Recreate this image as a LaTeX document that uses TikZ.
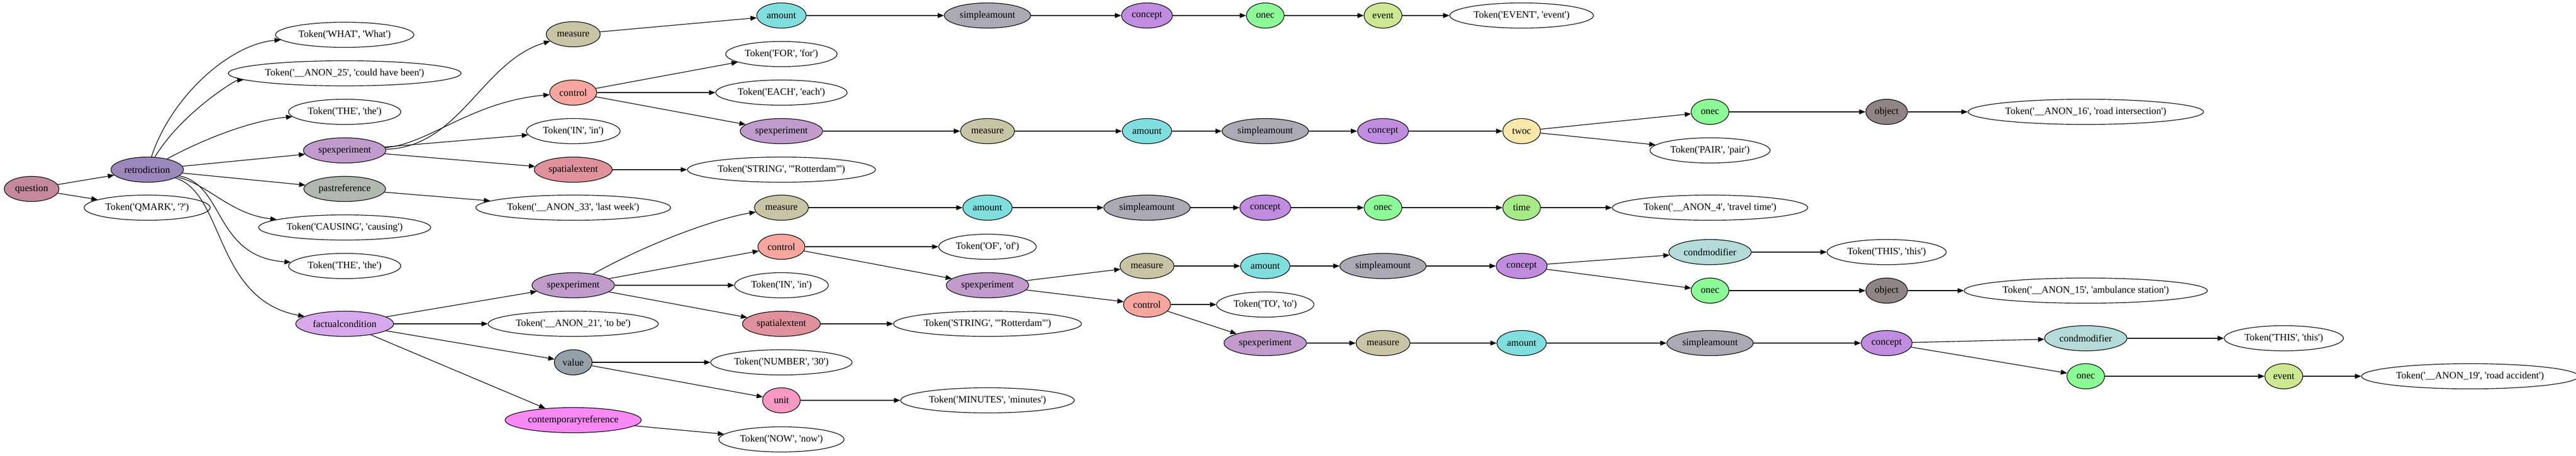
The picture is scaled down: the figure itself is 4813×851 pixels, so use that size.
\documentclass[tikz,border=0pt]{standalone}
\usepackage{fontspec}
\setmainfont{Liberation Serif}[Ligatures=TeXOff]
\usetikzlibrary{arrows.meta,shapes}
\definecolor{cquest}{HTML}{C48A9B}
\definecolor{cretro}{HTML}{9B87BB}
\definecolor{cspex}{HTML}{C09BCC}
\definecolor{cpast}{HTML}{B0B8B0}
\definecolor{cfact}{HTML}{D8A8EC}
\definecolor{cmeas}{HTML}{C8C4A6}
\definecolor{cctrl}{HTML}{F6A69E}
\definecolor{cspat}{HTML}{E0929C}
\definecolor{camt}{HTML}{80DEDE}
\definecolor{csamt}{HTML}{AAAAB4}
\definecolor{cconc}{HTML}{C08CE0}
\definecolor{conec}{HTML}{8CFA96}
\definecolor{cevent}{HTML}{CCE892}
\definecolor{ctwoc}{HTML}{FAE8AA}
\definecolor{cobj}{HTML}{908484}
\definecolor{ctime}{HTML}{A8EA88}
\definecolor{ccmod}{HTML}{B4DADA}
\definecolor{cval}{HTML}{96A0A8}
\definecolor{cunit}{HTML}{F898C4}
\definecolor{ccref}{HTML}{F888F4}

\begin{document}
\begin{tikzpicture}[x=0.766pt, y=-0.766pt, line width=0.9pt, >={Triangle[length=9pt,width=7pt]}]
	\tikzstyle{tok}=[draw, ellipse, minimum width=54pt, minimum height=36pt, inner xsep=4pt, inner ysep=2pt, text centered, font=\fontsize{14}{16}\selectfont]
	\tikzstyle{quest_b}=[tok, fill=cquest]
	\tikzstyle{retro_b}=[tok, fill=cretro]
	\tikzstyle{spex_b}=[tok, fill=cspex]
	\tikzstyle{past_b}=[tok, fill=cpast]
	\tikzstyle{fact_b}=[tok, fill=cfact]
	\tikzstyle{meas_b}=[tok, fill=cmeas]
	\tikzstyle{ctrl_b}=[tok, fill=cctrl]
	\tikzstyle{spat_b}=[tok, fill=cspat]
	\tikzstyle{amt_b}=[tok, fill=camt]
	\tikzstyle{samt_b}=[tok, fill=csamt]
	\tikzstyle{conc_b}=[tok, fill=cconc]
	\tikzstyle{onec_b}=[tok, fill=conec]
	\tikzstyle{event_b}=[tok, fill=cevent]
	\tikzstyle{twoc_b}=[tok, fill=ctwoc]
	\tikzstyle{obj_b}=[tok, fill=cobj]
	\tikzstyle{time_b}=[tok, fill=ctime]
	\tikzstyle{cmod_b}=[tok, fill=ccmod]
	\tikzstyle{val_b}=[tok, fill=cval]
	\tikzstyle{unit_b}=[tok, fill=cunit]
	\tikzstyle{cref_b}=[tok, fill=ccref]

	\useasboundingbox (0,0) rectangle (4813,851);

	\node[quest_b] (q) at (59,353) {question};
	\node[retro_b] (retro) at (275,317) {retrodiction};
	\node[tok] (qmark) at (275,388) {Token('QMARK', '?')};

	\node[tok] (what) at (644,65) {Token('WHAT', 'What')};
	\node[tok] (anon25) at (644,137) {Token('\_\_ANON\_25', 'could have been')};
	\node[tok] (the1) at (644,209) {Token('THE', 'the')};
	\node[spex_b] (spex1) at (644,281) {spexperiment};
	\node[past_b] (past) at (644,353) {pastreference};
	\node[tok] (causing) at (644,425) {Token('CAUSING', 'causing')};
	\node[tok] (the2) at (644,497) {Token('THE', 'the')};
	\node[fact_b] (fact) at (644,605) {factualcondition};

	\node[meas_b] (meas1) at (1071,64) {measure};
	\node[ctrl_b] (ctrl1) at (1071,173) {control};
	\node[tok] (in1) at (1071,245) {Token('IN', 'in')};
	\node[spat_b] (spat1) at (1071,317) {spatialextent};
	\node[tok] (anon33) at (1071,388) {Token('\_\_ANON\_33', 'last week')};
	\node[spex_b] (spex3) at (1071,533) {spexperiment};
	\node[tok] (anon21) at (1071,605) {Token('\_\_ANON\_21', 'to be')};
	\node[val_b] (val) at (1071,677) {value};
	\node[cref_b] (cref) at (1071,785) {contemporaryreference};

	\node[amt_b] (amt1) at (1460,29) {amount};
	\node[tok] (for) at (1460,101) {Token('FOR', 'for')};
	\node[tok] (each) at (1460,173) {Token('EACH', 'each')};
	\node[spex_b] (spex2) at (1460,245) {spexperiment};
	\node[tok] (str1) at (1460,317) {Token('STRING', '"Rotterdam"')};
	\node[meas_b] (meas2) at (1460,388) {measure};
	\node[ctrl_b] (ctrl2) at (1460,461) {control};
	\node[tok] (in2) at (1460,533) {Token('IN', 'in')};
	\node[spat_b] (spat2) at (1460,605) {spatialextent};
	\node[tok] (num) at (1460,677) {Token('NUMBER', '30')};
	\node[unit_b] (unit) at (1460,748) {unit};
	\node[tok] (now) at (1460,821) {Token('NOW', 'now')};

	\node[samt_b] (samt1) at (1845,29) {simpleamount};
	\node[meas_b] (meas3) at (1845,245) {measure};
	\node[amt_b] (amt2) at (1845,388) {amount};
	\node[tok] (of) at (1845,461) {Token('OF', 'of')};
	\node[spex_b] (spex4) at (1845,533) {spexperiment};
	\node[tok] (str2) at (1845,605) {Token('STRING', '"Rotterdam"')};
	\node[tok] (min) at (1845,748) {Token('MINUTES', 'minutes')};

	\node[conc_b] (conc1) at (2143,29) {concept};
	\node[amt_b] (amt3) at (2143,245) {amount};
	\node[samt_b] (samt2) at (2143,388) {simpleamount};
	\node[meas_b] (meas4) at (2143,497) {measure};
	\node[ctrl_b] (ctrl3) at (2143,569) {control};

	\node[onec_b] (onec1) at (2364,29) {onec};
	\node[samt_b] (samt3) at (2364,245) {simpleamount};
	\node[conc_b] (conc2) at (2364,388) {concept};
	\node[amt_b] (amt4) at (2364,497) {amount};
	\node[tok] (to) at (2364,569) {Token('TO', 'to')};
	\node[spex_b] (spex5) at (2364,641) {spexperiment};

	\node[event_b] (event1) at (2584,29) {event};
	\node[conc_b] (conc3) at (2584,245) {concept};
	\node[onec_b] (onec2) at (2584,388) {onec};
	\node[samt_b] (samt4) at (2584,497) {simpleamount};
	\node[meas_b] (meas5) at (2584,641) {measure};

	\node[tok] (tevent) at (2843,29) {Token('EVENT', 'event')};
	\node[twoc_b] (twoc) at (2843,245) {twoc};
	\node[time_b] (time) at (2843,388) {time};
	\node[conc_b] (conc4) at (2843,497) {concept};
	\node[amt_b] (amt5) at (2843,641) {amount};

	\node[onec_b] (onec3) at (3195,209) {onec};
	\node[tok] (pair) at (3195,281) {Token('PAIR', 'pair')};
	\node[tok] (anon4) at (3195,388) {Token('\_\_ANON\_4', 'travel time')};
	\node[cmod_b] (cmod1) at (3195,471) {condmodifier};
	\node[onec_b] (onec4) at (3195,543) {onec};
	\node[samt_b] (samt5) at (3195,641) {simpleamount};

	\node[obj_b] (obj1) at (3525,209) {object};
	\node[tok] (this1) at (3525,471) {Token('THIS', 'this')};
	\node[obj_b] (obj2) at (3525,543) {object};
	\node[conc_b] (conc5) at (3525,641) {concept};

	\node[tok] (anon16) at (3897,209) {Token('\_\_ANON\_16', 'road intersection')};
	\node[tok] (anon15) at (3897,543) {Token('\_\_ANON\_15', 'ambulance station')};
	\node[cmod_b] (cmod2) at (3897,632) {condmodifier};
	\node[onec_b] (onec5) at (3897,703) {onec};

	\node[tok] (this2) at (4267,632) {Token('THIS', 'this')};
	\node[event_b] (event2) at (4267,703) {event};
	\node[tok] (anon19) at (4615,703) {Token('\_\_ANON\_19', 'road accident')};

	\draw[->] (q) -- (retro);
	\draw[->] (q) -- (qmark);

	\draw[->] (retro) .. controls (320,180) and (430,82) .. (what);
	\draw[->] (retro) .. controls (340,210) and (440,150) .. (anon25);
	\draw[->] (retro) .. controls (380,260) and (470,225) .. (the1);
	\draw[->] (retro) -- (spex1);
	\draw[->] (retro) -- (past);
	\draw[->] (retro) .. controls (390,345) and (430,400) .. (causing);
	\draw[->] (retro) .. controls (420,345) and (400,480) .. (the2);
	\draw[->] (retro) .. controls (420,360) and (400,560) .. (fact);

	\draw[->] (spex1) .. controls (860,275) and (900,115) .. (meas1);
	\draw[->] (spex1) .. controls (800,270) and (880,190) .. (ctrl1);
	\draw[->] (spex1) -- (in1);
	\draw[->] (spex1) -- (spat1);
	\draw[->] (past) -- (anon33);

	\draw[->] (meas1) -- (amt1);
	\draw[->] (amt1) -- (samt1);
	\draw[->] (samt1) -- (conc1);
	\draw[->] (conc1) -- (onec1);
	\draw[->] (onec1) -- (event1);
	\draw[->] (event1) -- (tevent);

	\draw[->] (ctrl1) -- (for);
	\draw[->] (ctrl1) -- (each);
	\draw[->] (ctrl1) -- (spex2);
	\draw[->] (spex2) -- (meas3);
	\draw[->] (meas3) -- (amt3);
	\draw[->] (amt3) -- (samt3);
	\draw[->] (samt3) -- (conc3);
	\draw[->] (conc3) -- (twoc);
	\draw[->] (twoc) -- (onec3);
	\draw[->] (twoc) -- (pair);
	\draw[->] (onec3) -- (obj1);
	\draw[->] (obj1) -- (anon16);
	\draw[->] (spat1) -- (str1);

	\draw[->] (fact) -- (spex3);
	\draw[->] (fact) -- (anon21);
	\draw[->] (fact) -- (val);
	\draw[->] (fact) -- (cref);

	\draw[->] (spex3) .. controls (1200,460) and (1330,410) .. (meas2);
	\draw[->] (spex3) -- (ctrl2);
	\draw[->] (spex3) -- (in2);
	\draw[->] (spex3) -- (spat2);

	\draw[->] (meas2) -- (amt2);
	\draw[->] (amt2) -- (samt2);
	\draw[->] (samt2) -- (conc2);
	\draw[->] (conc2) -- (onec2);
	\draw[->] (onec2) -- (time);
	\draw[->] (time) -- (anon4);

	\draw[->] (ctrl2) -- (of);
	\draw[->] (ctrl2) -- (spex4);
	\draw[->] (spex4) -- (meas4);
	\draw[->] (spex4) -- (ctrl3);
	\draw[->] (meas4) -- (amt4);
	\draw[->] (amt4) -- (samt4);
	\draw[->] (samt4) -- (conc4);
	\draw[->] (conc4) -- (cmod1);
	\draw[->] (cmod1) -- (this1);
	\draw[->] (conc4) -- (onec4);
	\draw[->] (onec4) -- (obj2);
	\draw[->] (obj2) -- (anon15);

	\draw[->] (ctrl3) -- (to);
	\draw[->] (ctrl3) -- (spex5);
	\draw[->] (spex5) -- (meas5);
	\draw[->] (meas5) -- (amt5);
	\draw[->] (amt5) -- (samt5);
	\draw[->] (samt5) -- (conc5);
	\draw[->] (conc5) -- (cmod2);
	\draw[->] (cmod2) -- (this2);
	\draw[->] (conc5) -- (onec5);
	\draw[->] (onec5) -- (event2);
	\draw[->] (event2) -- (anon19);

	\draw[->] (spat2) -- (str2);
	\draw[->] (val) -- (num);
	\draw[->] (val) -- (unit);
	\draw[->] (unit) -- (min);
	\draw[->] (cref) -- (now);
\end{tikzpicture}
\end{document}
